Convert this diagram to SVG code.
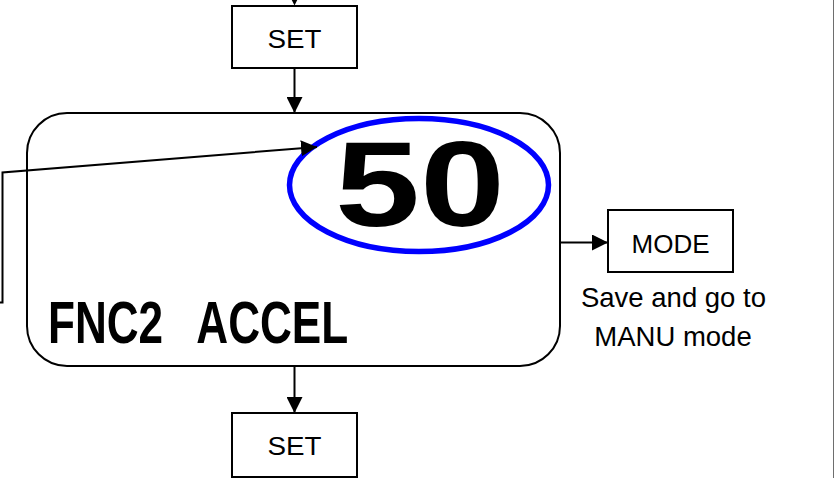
<svg xmlns="http://www.w3.org/2000/svg" width="834" height="478" viewBox="0 0 834 478">
<style>
.box{fill:#fff;stroke:#000;stroke-width:2}
.ln{fill:none;stroke:#000;stroke-width:2}
.lbl{font-family:"Liberation Sans",Arial,sans-serif;font-size:26px;fill:#000;text-anchor:middle}
.cap{font-family:"Liberation Sans",Arial,sans-serif;font-size:27.5px;fill:#000;text-anchor:middle}
.lcd{font-family:"Liberation Sans",Arial,sans-serif;font-weight:bold;fill:#000}
</style>
<defs>
<marker id="ah" viewBox="0 0 16 16" refX="16" refY="8" markerWidth="16" markerHeight="16" markerUnits="userSpaceOnUse" orient="auto">
<path d="M0,0 L16,8 L0,16 Z" fill="#000"/>
</marker>
</defs>
<rect x="0" y="0" width="834" height="478" fill="#fff"/>
<line x1="833.5" y1="0" x2="833.5" y2="478" stroke="#6e6e6e" stroke-width="1"/>

<g id="set-top">
<rect class="box" x="232" y="6" width="125" height="62"/>
<text class="lbl" x="294.5" y="48" textLength="54" lengthAdjust="spacingAndGlyphs">SET</text>
</g>

<g id="display">
<rect class="box" x="27" y="113" width="533" height="253" rx="40" ry="40"/>
<text class="lcd" transform="scale(0.735,1)" x="65.3" y="343" font-size="60" word-spacing="30.7">FNC2 ACCEL</text>
</g>

<g id="value">
<text class="lcd" x="335" y="226" font-size="120" textLength="170" lengthAdjust="spacingAndGlyphs">50</text>
<ellipse cx="419" cy="185" rx="129.5" ry="66.5" fill="none" stroke="#0000ff" stroke-width="5.5"/>
</g>

<g id="mode">
<rect class="box" x="608" y="210" width="125" height="62"/>
<text class="lbl" x="670.5" y="253">MODE</text>
<text class="cap" x="673.5" y="307">Save and go to</text>
<text class="cap" x="673" y="346">MANU mode</text>
</g>

<g id="set-bottom">
<rect class="box" x="232" y="413" width="125" height="64"/>
<text class="lbl" x="294.5" y="455" textLength="54" lengthAdjust="spacingAndGlyphs">SET</text>
</g>

<g id="connectors">
<polygon points="291.75,0 297.25,0 294.5,5.5" fill="#000"/>
<line class="ln" x1="294.5" y1="68" x2="294.5" y2="113" marker-end="url(#ah)"/>
<line class="ln" x1="294.5" y1="366" x2="294.5" y2="413" marker-end="url(#ah)"/>
<line class="ln" x1="294.5" y1="477" x2="294.5" y2="478"/>
<line class="ln" x1="560" y1="242.5" x2="608" y2="242.5" marker-end="url(#ah)"/>
<polyline class="ln" points="0,302.5 2.5,302.5 2.5,172.5 317,147" marker-end="url(#ah)"/>
</g>
</svg>
